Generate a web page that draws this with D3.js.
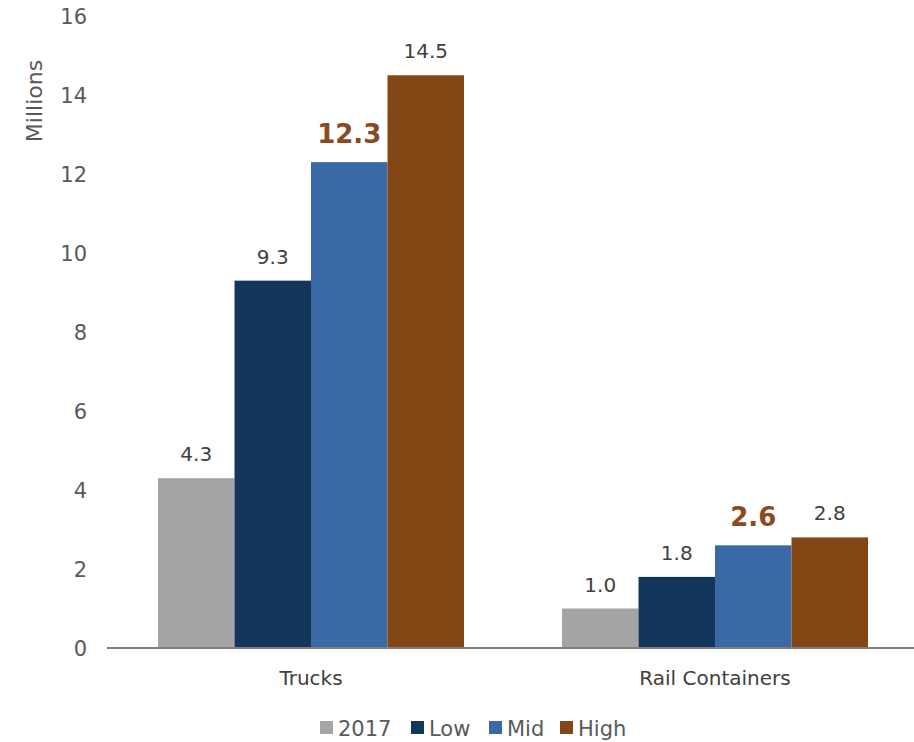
<!DOCTYPE html>
<html><head><meta charset="utf-8">
<script src="https://cdn.jsdelivr.net/npm/d3@7"></script>
<style>body{margin:0;background:#fff}svg{display:block}text{font-family:"DejaVu Sans",sans-serif}</style>
</head><body><svg id="c" width="914" height="742"></svg>
<script>
const categories = ["Trucks", "Rail Containers"];
const seriesNames = ["2017", "Low", "Mid", "High"];
const values2017 = [4.3, 1.0];
const valuesLow = [9.3, 1.8];
const valuesMid = [12.3, 2.6];
const valuesHigh = [14.5, 2.8];
const yTicks = [0, 2, 4, 6, 8, 10, 12, 14, 16];
const colors = ["#a5a5a5", "#12375b", "#3a6aa5", "#834615"];

const seriesVals = [values2017, valuesLow, valuesMid, valuesHigh];
const data = categories.map((c, i) => ({cat: c, vals: seriesNames.map((s, j) => ({s, j, v: seriesVals[j][i]}))}));

const svg = d3.select("#c");
const y = d3.scaleLinear().domain([0, 16]).range([648, 16]);
const x0 = d3.scaleBand().domain(categories).range([109, 917]).paddingInner(0).paddingOuter(0);
const groupW = 306;
const x1 = d3.scaleBand().domain(seriesNames).range([0, groupW]).padding(0);

// y tick labels
svg.append("g").selectAll("text").data(yTicks).join("text")
  .attr("x", 87).attr("y", d => y(d)).attr("dy", "0.36em")
  .attr("text-anchor", "end").attr("fill", "#595959").attr("font-size", 21)
  .text(d => d);

svg.append("text").attr("transform", "translate(42,101) rotate(-90)")
  .attr("text-anchor", "middle").attr("fill", "#595959").attr("font-size", 22).text("Millions");

const g = svg.append("g").selectAll("g").data(data).join("g")
  .attr("transform", d => `translate(${x0(d.cat) + (x0.bandwidth() - groupW) / 2},0)`);

g.selectAll("rect").data(d => d.vals).join("rect")
  .attr("x", d => x1(d.s)).attr("width", x1.bandwidth())
  .attr("y", d => y(d.v)).attr("height", d => y(0) - y(d.v))
  .attr("fill", d => colors[d.j]);

g.selectAll("text.lab").data(d => d.vals).join("text").attr("class", "lab")
  .attr("x", d => x1(d.s) + x1.bandwidth() / 2)
  .attr("y", d => y(d.v) - (d.s === "Mid" ? 19 : 17))
  .attr("text-anchor", "middle")
  .attr("fill", d => d.s === "Mid" ? "#8a4a1e" : "#404040")
  .attr("font-size", d => d.s === "Mid" ? 26 : 20)
  .attr("font-weight", d => d.s === "Mid" ? "bold" : "normal")
  .text(d => d.v.toFixed(1));

// axis line
svg.append("line").attr("x1", 107).attr("x2", 914).attr("y1", 648).attr("y2", 648)
  .attr("stroke", "#7f7f7f").attr("stroke-width", 2);

svg.append("g").selectAll("text").data(categories).join("text")
  .attr("x", d => x0(d) + x0.bandwidth() / 2).attr("y", 685)
  .attr("text-anchor", "middle").attr("fill", "#404040").attr("font-size", 20)
  .text(d => d);

// legend
const legX = [320, 411, 489, 560];
const leg = svg.append("g").selectAll("g").data(seriesNames).join("g")
  .attr("transform", (d, i) => `translate(${legX[i]},721)`);
leg.append("rect").attr("width", 13).attr("height", 13).attr("fill", (d, i) => colors[i]);
leg.append("text").attr("x", 18).attr("y", 7).attr("dy", "0.36em")
  .attr("fill", "#595959").attr("font-size", 21).text(d => d);
</script></body></html>
